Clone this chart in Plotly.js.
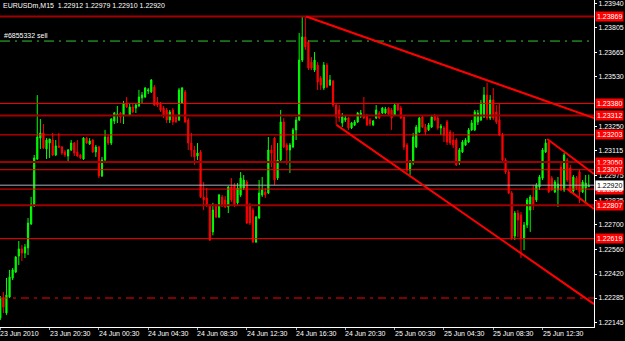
<!DOCTYPE html>
<html><head><meta charset="utf-8">
<script src="https://cdn.plot.ly/plotly-3.0.1.min.js"></script>
<style>html,body{margin:0;padding:0;background:#000;}#chart{width:625px;height:341px;}</style>
</head><body><div id="chart"></div>
<script>
const symbolTitle = "EURUSDm,M15  1.22912 1.22979 1.22910 1.22920";
const orderLabel = "#6855332 sell";
const sellPrice = 1.23731;
const bidPrice = 1.22920;
const dashDotPrice = 1.22285;

const openP = [1.22173,1.22285,1.22201,1.22291,1.22398,1.22431,1.22521,1.22561,1.22538,1.22567,1.22702,1.22803,1.23067,1.23185,1.23214,1.23124,1.23157,1.23174,1.23090,1.23141,1.23135,1.23107,1.23084,1.23118,1.23157,1.23107,1.23090,1.23067,1.23185,1.23152,1.23174,1.23107,1.23135,1.22972,1.23062,1.23191,1.23157,1.23281,1.23309,1.23326,1.23309,1.23382,1.23315,1.23360,1.23354,1.23366,1.23411,1.23416,1.23450,1.23444,1.23472,1.23388,1.23377,1.23354,1.23343,1.23287,1.23343,1.23304,1.23287,1.23382,1.23444,1.23287,1.23157,1.23118,1.23084,1.23107,1.22854,1.22848,1.22809,1.22657,1.22809,1.22741,1.22854,1.22837,1.22797,1.22910,1.22921,1.22820,1.22865,1.22904,1.22938,1.22809,1.22780,1.22600,1.22735,1.22865,1.22882,1.22876,1.23118,1.23185,1.22960,1.23062,1.23276,1.23146,1.23118,1.23135,1.23231,1.23287,1.23624,1.23754,1.23726,1.23613,1.23568,1.23596,1.23523,1.23467,1.23596,1.23484,1.23506,1.23371,1.23343,1.23270,1.23287,1.23298,1.23242,1.23259,1.23276,1.23309,1.23315,1.23309,1.23287,1.23259,1.23298,1.23326,1.23326,1.23326,1.23354,1.23343,1.23315,1.23377,1.23354,1.23304,1.23146,1.23005,1.23045,1.23135,1.23219,1.23304,1.23247,1.23231,1.23247,1.23315,1.23298,1.23242,1.23242,1.23276,1.23219,1.23174,1.23174,1.23045,1.23107,1.23146,1.23163,1.23231,1.23231,1.23276,1.23287,1.23304,1.23427,1.23298,1.23399,1.23332,1.23287,1.23202,1.23062,1.22994,1.22876,1.22634,1.22763,1.22752,1.22623,1.22696,1.22780,1.22854,1.22837,1.22910,1.22960,1.23107,1.23163,1.22960,1.22882,1.22893,1.23022,1.22893,1.23062,1.23017,1.22887,1.22960,1.22994,1.22882,1.22904,1.22912];
const highP = [1.22296,1.22319,1.22398,1.22443,1.22454,1.22521,1.22606,1.22583,1.22589,1.22735,1.22854,1.23090,1.23427,1.23292,1.23264,1.23185,1.23180,1.23214,1.23174,1.23214,1.23141,1.23118,1.23124,1.23174,1.23163,1.23174,1.23095,1.23191,1.23191,1.23185,1.23180,1.23146,1.23141,1.23079,1.23231,1.23202,1.23298,1.23332,1.23366,1.23332,1.23394,1.23416,1.23377,1.23377,1.23382,1.23456,1.23444,1.23472,1.23467,1.23517,1.23484,1.23416,1.23388,1.23366,1.23354,1.23343,1.23354,1.23315,1.23467,1.23472,1.23456,1.23298,1.23214,1.23141,1.23157,1.23118,1.22938,1.22904,1.22814,1.22820,1.22814,1.22870,1.22865,1.22859,1.22915,1.22960,1.22932,1.22932,1.22994,1.22977,1.22949,1.22820,1.22792,1.22747,1.22949,1.22966,1.22904,1.23191,1.23146,1.23191,1.23157,1.23343,1.23298,1.23157,1.23157,1.23242,1.23304,1.23776,1.23869,1.23866,1.23737,1.23641,1.23669,1.23613,1.23534,1.23613,1.23607,1.23540,1.23512,1.23377,1.23371,1.23326,1.23315,1.23304,1.23276,1.23287,1.23332,1.23343,1.23416,1.23321,1.23298,1.23287,1.23371,1.23337,1.23360,1.23360,1.23360,1.23354,1.23377,1.23382,1.23366,1.23309,1.23157,1.23062,1.23214,1.23259,1.23304,1.23309,1.23264,1.23270,1.23309,1.23321,1.23309,1.23264,1.23253,1.23287,1.23231,1.23219,1.23185,1.23129,1.23174,1.23185,1.23242,1.23287,1.23343,1.23343,1.23399,1.23472,1.23495,1.23427,1.23467,1.23371,1.23382,1.23214,1.23073,1.23005,1.22887,1.22775,1.22780,1.22769,1.22713,1.22848,1.22865,1.22921,1.22932,1.22977,1.23129,1.23180,1.23180,1.22972,1.22949,1.22966,1.23045,1.23101,1.23073,1.23034,1.22977,1.22972,1.23005,1.22949,1.22977,1.22979];
const lowP = [1.22161,1.22201,1.22190,1.22285,1.22386,1.22426,1.22471,1.22493,1.22510,1.22527,1.22696,1.22797,1.23062,1.23124,1.23124,1.23067,1.23073,1.23084,1.23084,1.23129,1.23090,1.23079,1.23045,1.23112,1.23084,1.23079,1.23067,1.23062,1.23152,1.23146,1.23101,1.23079,1.22960,1.22966,1.23045,1.23146,1.23146,1.23264,1.23270,1.23270,1.23264,1.23354,1.23309,1.23326,1.23326,1.23360,1.23382,1.23411,1.23433,1.23439,1.23366,1.23360,1.23332,1.23298,1.23270,1.23270,1.23259,1.23270,1.23281,1.23377,1.23270,1.23118,1.23079,1.23034,1.23062,1.22848,1.22780,1.22797,1.22606,1.22638,1.22735,1.22735,1.22797,1.22792,1.22763,1.22825,1.22797,1.22809,1.22854,1.22893,1.22702,1.22696,1.22595,1.22595,1.22730,1.22854,1.22848,1.22870,1.23022,1.22921,1.22949,1.23056,1.23129,1.23034,1.22989,1.23129,1.23174,1.23281,1.23613,1.23681,1.23568,1.23568,1.23557,1.23456,1.23456,1.23456,1.23467,1.23478,1.23360,1.23259,1.23276,1.23247,1.23276,1.23231,1.23236,1.23253,1.23270,1.23298,1.23292,1.23253,1.23253,1.23253,1.23292,1.23292,1.23321,1.23321,1.23315,1.23231,1.23309,1.23337,1.23292,1.23118,1.22994,1.22977,1.23034,1.23129,1.23214,1.23242,1.23202,1.23225,1.23242,1.23281,1.23231,1.23202,1.23163,1.23146,1.23146,1.23129,1.23028,1.23034,1.23101,1.23141,1.23157,1.23225,1.23225,1.23259,1.23281,1.23298,1.23287,1.23287,1.23287,1.23264,1.23197,1.23050,1.22983,1.22870,1.22611,1.22611,1.22628,1.22510,1.22555,1.22679,1.22657,1.22780,1.22825,1.22893,1.22949,1.23101,1.22876,1.22887,1.22876,1.22797,1.22887,1.22882,1.22938,1.22876,1.22870,1.22893,1.22820,1.22876,1.22820,1.22910];
const closeP = [1.22285,1.22234,1.22302,1.22403,1.22443,1.22516,1.22561,1.22538,1.22572,1.22707,1.22814,1.23073,1.23191,1.23214,1.23129,1.23174,1.23180,1.23090,1.23141,1.23135,1.23101,1.23090,1.23118,1.23157,1.23101,1.23084,1.23073,1.23185,1.23157,1.23169,1.23107,1.23135,1.22972,1.23062,1.23191,1.23157,1.23292,1.23326,1.23321,1.23304,1.23382,1.23360,1.23360,1.23332,1.23371,1.23416,1.23427,1.23467,1.23456,1.23512,1.23371,1.23371,1.23343,1.23315,1.23287,1.23332,1.23276,1.23276,1.23456,1.23467,1.23276,1.23157,1.23118,1.23079,1.23101,1.22854,1.22837,1.22809,1.22611,1.22780,1.22741,1.22865,1.22803,1.22797,1.22910,1.22837,1.22809,1.22904,1.22960,1.22949,1.22707,1.22707,1.22600,1.22741,1.22876,1.22893,1.22865,1.23118,1.23101,1.22949,1.23062,1.23276,1.23135,1.23118,1.23146,1.23231,1.23287,1.23624,1.23754,1.23698,1.23579,1.23579,1.23624,1.23501,1.23484,1.23596,1.23472,1.23512,1.23371,1.23304,1.23298,1.23304,1.23298,1.23242,1.23270,1.23276,1.23326,1.23326,1.23298,1.23259,1.23264,1.23281,1.23343,1.23298,1.23354,1.23349,1.23321,1.23298,1.23371,1.23343,1.23298,1.23135,1.23005,1.23050,1.23191,1.23247,1.23298,1.23247,1.23219,1.23259,1.23304,1.23287,1.23242,1.23253,1.23202,1.23163,1.23157,1.23146,1.23034,1.23118,1.23163,1.23174,1.23231,1.23270,1.23332,1.23326,1.23382,1.23427,1.23298,1.23399,1.23298,1.23276,1.23202,1.23062,1.22994,1.22876,1.22623,1.22763,1.22724,1.22623,1.22696,1.22837,1.22854,1.22809,1.22921,1.22966,1.23118,1.23157,1.22882,1.22893,1.22938,1.22927,1.22893,1.23090,1.22949,1.22887,1.22966,1.22904,1.22882,1.22938,1.22932,1.22920];

const timeTickBars = [0,16,32,48,64,80,96,112,128,144,160,176];
const timeTickLabels = ["23 Jun 2010","23 Jun 20:30","24 Jun 00:30","24 Jun 04:30","24 Jun 08:30","24 Jun 12:30","24 Jun 16:30","24 Jun 20:30","25 Jun 00:30","25 Jun 04:30","25 Jun 08:30","25 Jun 12:30"];
const priceTicks = [1.23940,1.23805,1.23665,1.23530,1.23250,1.23115,1.22975,1.22835,1.22700,1.22560,1.22420,1.22285,1.22145];

const darkLevels = [1.23869,1.23312,1.23050,1.22807];
const brightLevels = [1.23380,1.23203,1.23007,1.22898,1.22619];
const boxLevels = [1.23869,1.23380,1.23312,1.23203,1.23050,1.23007,1.22898,1.22807,1.22619];

// trend lines: [barStart, priceStart, barEnd, priceEnd]
const trendUpper = [99.3, 1.23869, 192.7, 1.23298];
const trendLower = [109.1, 1.23259, 192.7, 1.22251];
const smallUpper = [177.5, 1.23180, 192.7, 1.22983];
const smallLower = [184.0, 1.22899, 192.7, 1.22786];

const xIdx = openP.map((_, i) => i);
const FONT = 'Liberation Sans, Arial, sans-serif';

const trace = {
  type: 'candlestick', x: xIdx, open: openP, high: highP, low: lowP, close: closeP,
  increasing: {line: {color: '#00FF00', width: 1}, fillcolor: '#00FF00'},
  decreasing: {line: {color: '#FF0000', width: 1}, fillcolor: '#FF0000'},
  whiskerwidth: 0, hoverinfo: 'skip', showlegend: false
};

const shapes = [];
darkLevels.forEach(p => shapes.push({type:'line', xref:'paper', yref:'y', x0:0, x1:1, y0:p, y1:p, line:{color:'#A00000', width:2}, layer:'above'}));
brightLevels.forEach(p => shapes.push({type:'line', xref:'paper', yref:'y', x0:0, x1:1, y0:p, y1:p, line:{color:'#FF0000', width:1}, layer:'above'}));
shapes.push({type:'line', xref:'paper', yref:'y', x0:0, x1:1, y0:sellPrice, y1:sellPrice, line:{color:'#32C832', width:1, dash:'10px,5px,2px,5px'}, layer:'above'});
shapes.push({type:'line', xref:'paper', yref:'y', x0:0, x1:1, y0:dashDotPrice, y1:dashDotPrice, line:{color:'#FF0000', width:1, dash:'8px,5px,3px,5px'}, layer:'above'});
shapes.push({type:'line', xref:'paper', yref:'y', x0:0, x1:1, y0:bidPrice, y1:bidPrice, line:{color:'#A8AEBC', width:1}, layer:'above'});
[trendUpper, trendLower, smallUpper, smallLower].forEach(t => shapes.push({type:'line', xref:'x', yref:'y', x0:t[0], y0:t[1], x1:t[2], y1:t[3], line:{color:'#FF0000', width:2}, layer:'above'}));

const annotations = [];
boxLevels.forEach(p => annotations.push({xref:'paper', x:1, xanchor:'left', xshift:1, yref:'y', y:p, yanchor:'middle', text:p.toFixed(5), showarrow:false, bgcolor:'#FF0000', borderpad:1, font:{family:FONT, size:7, color:'#FFFFFF'}}));
annotations.push({xref:'paper', x:1, xanchor:'left', xshift:1, yref:'y', y:bidPrice, yanchor:'middle', text:bidPrice.toFixed(5), showarrow:false, bgcolor:'#FFFFFF', borderpad:1, font:{family:FONT, size:7, color:'#000000'}});
annotations.push({xref:'paper', x:0, xanchor:'left', xshift:1, yref:'paper', y:1, yanchor:'top', yshift:0, text:symbolTitle, showarrow:false, font:{family:FONT, size:7, color:'#FFFFFF'}});
annotations.push({xref:'paper', x:0, xanchor:'left', xshift:2, yref:'y', y:sellPrice, yanchor:'bottom', yshift:0, text:orderLabel, showarrow:false, font:{family:FONT, size:7, color:'#FFFFFF'}});
timeTickBars.forEach((b, k) => annotations.push({xref:'x', x:b, xanchor:'left', xshift:-2, yref:'paper', y:0, yanchor:'top', yshift:-1, text:timeTickLabels[k], showarrow:false, font:{family:FONT, size:7, color:'#FFFFFF'}}));

const layout = {
  width: 625, height: 341,
  margin: {l:0, r:31, t:0, b:14, pad:0},
  paper_bgcolor: '#000000', plot_bgcolor: '#000000',
  showlegend: false, boxgap: 0.45,
  xaxis: {range:[-0.1,192.7], tickmode:'array', tickvals: timeTickBars, showticklabels:false,
    ticks:'outside', ticklen:2, tickcolor:'#AAAAAA',
    showline:true, linecolor:'#FFFFFF', linewidth:1, showgrid:false, zeroline:false,
    rangeslider:{visible:false}},
  yaxis: {side:'right', range:[1.22122,1.23962], tickmode:'array', tickvals: priceTicks,
    ticktext: priceTicks.map(v => v.toFixed(5)), ticks:'outside', ticklen:2, tickcolor:'#FFFFFF',
    showline:true, linecolor:'#FFFFFF', linewidth:1, showgrid:false, zeroline:false,
    tickfont:{family:FONT, size:7, color:'#FFFFFF'}},
  shapes: shapes, annotations: annotations
};

Plotly.newPlot('chart', [trace], layout, {staticPlot:true, displayModeBar:false});
</script></body></html>
